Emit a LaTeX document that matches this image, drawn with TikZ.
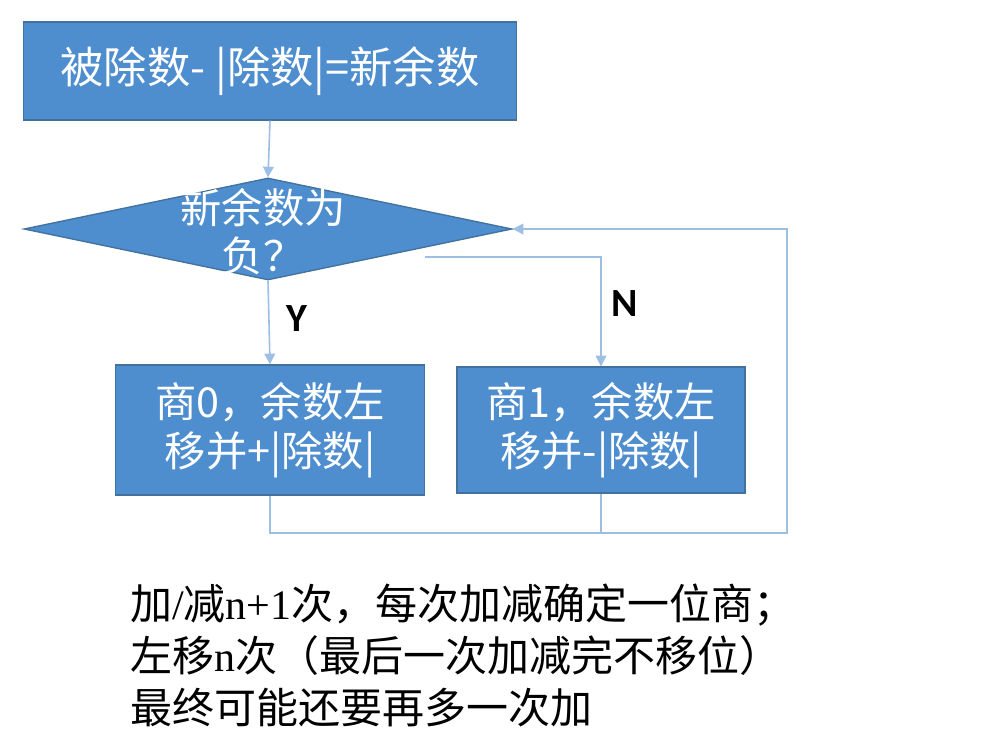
\documentclass[tikz,border=0pt]{standalone}
\usepackage{fontspec}
\setmainfont{Liberation Serif}
\newfontfamily\cjk{Noto Sans CJK SC}
\newfontfamily\lblfont{Carlito}
\usetikzlibrary{shapes.geometric,arrows.meta}
\definecolor{boxfill}{HTML}{4E8ECF}
\definecolor{boxline}{HTML}{41719C}
\definecolor{connc}{HTML}{9DBFE3}
\begin{document}
\begin{tikzpicture}[x=0.75pt,y=-0.75pt,
  procbox/.style={rectangle, draw=boxline, line width=1pt, fill=boxfill, text=white,
    font=\cjk\fontsize{31}{37}\selectfont, align=center, inner sep=0pt},
  conn/.style={draw=connc, line width=1.2pt},
  arr/.style={conn, -{Triangle[width=8pt,length=8pt]}},
  lab/.style={font=\lblfont\bfseries\fontsize{30}{32}\selectfont, text=black, inner sep=0pt}]
\useasboundingbox (0,0) rectangle (987,730);
\fill[white] (0,0) rectangle (987,730);

\node[procbox, minimum width=369.75pt, minimum height=73.5pt, font=\cjk\fontsize{32.5}{37}\selectfont] (top) at (270,71) {被除数- |除数|=新余数};

\node[diamond, draw=boxline, fill=boxfill, line width=1pt, minimum width=366pt,
      minimum height=76.5pt, inner sep=0pt, shape aspect=4.78] (dec) at (268,229) {};
\node[text=white, font=\cjk\fontsize{31}{36}\selectfont, align=center, inner sep=0pt] (dectext) at (263,232) {新余数为\\负？};

\node[procbox, minimum width=231.75pt, minimum height=97.5pt] (b1) at (270,430) {商0，余数左\\移并+|除数|};
\node[procbox, minimum width=216pt, minimum height=94.5pt] (b2) at (601,430) {商1，余数左\\移并-|除数|};

\draw[arr] (top.south) -- (dec.north);
\draw[arr] (dec.south) -- (b1.north);
\coordinate (nstart) at (425,257);
\draw[arr] (nstart) -| (b2.north);
\node[lab] (ylab) at (297,319) {Y};
\node[lab] (nlab) at (625,304) {N};

\coordinate (loopc) at (787,533);
\draw[arr] (b1.south) |- (loopc) |- (dec.east);
\draw[conn] (b2.south) -- (b2.south |- loopc);

\node[anchor=west, inner sep=0pt, font=\fontsize{31.5}{39}\selectfont, align=left] (note) at (130,655)
  {{\cjk 加}/{\cjk 减}n+1{\cjk 次，每次加减确定一位商；}\\
   {\cjk 左移}n{\cjk 次（最后一次加减完不移位）}\\
   {\cjk 最终可能还要再多一次加}};
\end{tikzpicture}
\end{document}
